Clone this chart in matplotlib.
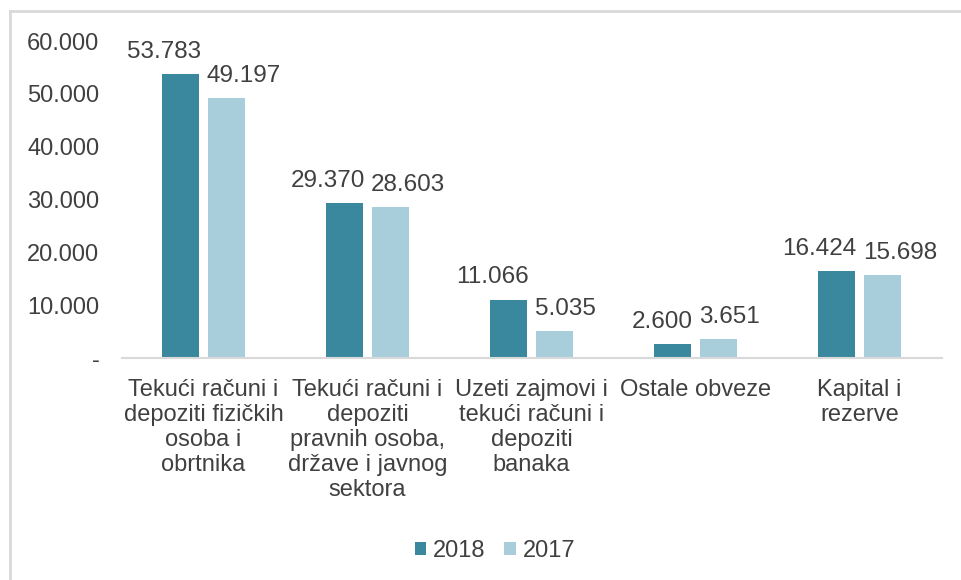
import matplotlib
matplotlib.use("Agg")
import matplotlib.pyplot as plt
from matplotlib.lines import Line2D
from matplotlib.patches import Patch
import numpy as np

categories = [
    "Tekući računi i\ndepoziti fizičkih\nosoba i\nobrtnika",
    "Tekući računi i\ndepoziti\npravnih osoba,\ndržave i javnog\nsektora",
    "Uzeti zajmovi i\ntekući računi i\ndepoziti\nbanaka",
    "Ostale obveze",
    "Kapital i\nrezerve",
]
values_2018 = [53783, 29370, 11066, 2600, 16424]
values_2017 = [49197, 28603, 5035, 3651, 15698]
series_names = ["2018", "2017"]
yticks = [0, 10000, 20000, 30000, 40000, 50000, 60000]
ytick_labels = ["-", "10.000", "20.000", "30.000", "40.000", "50.000", "60.000"]

C_DARK = "#3A889E"
C_LIGHT = "#A8CEDC"
TXT = "#404040"

plt.rcParams["font.family"] = ["Liberation Sans", "DejaVu Sans"]

W, H = 961, 580
fig = plt.figure(figsize=(W / 100, H / 100), dpi=100)
ax = fig.add_axes([121.5 / W, 1 - 358 / H, 820 / W, (358 - 41) / H])

x = np.arange(len(categories))
bw = 0.226
off = 0.142
ax.bar(x - off, values_2018, bw, color=C_DARK, label=series_names[0])
ax.bar(x + off, values_2017, bw, color=C_LIGHT, label=series_names[1])

def fmt(v):
    return f"{v:,}".replace(",", ".")

for xi, v in zip(x, values_2018):
    ax.annotate(fmt(v), xy=(xi - off + bw / 2, v), xytext=(1.5, 8), textcoords="offset points",
                ha="right", va="bottom", fontsize=17.5, color=TXT)
for xi, v in zip(x, values_2017):
    ax.annotate(fmt(v), xy=(xi + off - bw / 2, v), xytext=(-1, 8), textcoords="offset points",
                ha="left", va="bottom", fontsize=17.5, color=TXT)

ax.set_xlim(-0.5, len(categories) - 0.5)
ax.set_ylim(0, 60000)
ax.set_yticks(yticks)
ax.set_yticklabels(ytick_labels, fontsize=17, color=TXT)
ax.set_xticks(x)
ax.set_xticklabels(categories, fontsize=17, color=TXT, linespacing=1.18)
ax.tick_params(axis="y", length=0, pad=16)
ax.tick_params(axis="x", length=0, pad=15)
for s in ["top", "right", "left"]:
    ax.spines[s].set_visible(False)
ax.spines["bottom"].set_color("#D9D9D9")
ax.spines["bottom"].set_linewidth(1.5)

handles = [Patch(facecolor=C_DARK), Patch(facecolor=C_LIGHT)]
fig.legend(handles, series_names, loc="center", bbox_to_anchor=(495 / W, 1 - 551 / H),
           ncol=2, frameon=False, fontsize=17, handlelength=0.48, handleheight=0.48,
           handletextpad=0.3, columnspacing=0.8, labelcolor=TXT)

# outer border (top and left visible)
fig.add_artist(Line2D([10 / W, 10 / W], [0, 1 - 11 / H], transform=fig.transFigure,
                      color="#D9D9D9", lw=2))
fig.add_artist(Line2D([10 / W, 1], [1 - 11 / H, 1 - 11 / H], transform=fig.transFigure,
                      color="#D9D9D9", lw=2))

fig.savefig("out.png", dpi=100)
